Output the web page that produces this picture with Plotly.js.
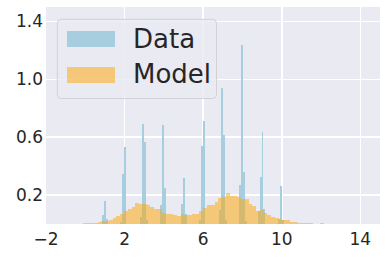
<!DOCTYPE html>
<html>
<head>
<meta charset="utf-8">
<script src="https://cdn.plot.ly/plotly-3.0.1.min.js"></script>
<style>html,body{margin:0;padding:0;background:#fff;}#chart{width:387px;height:259px;}</style>
</head>
<body>
<div id="chart"></div>
<script>
// Data histogram (bin centers and heights)
var dataX = [0.92,1.02,1.12, 1.83,1.93,2.03, 2.85,2.95,3.05,3.15, 3.86,3.96,4.06, 4.92,5.02,5.12,
             5.84,5.94,6.04, 6.85,6.95,7.05,7.15, 7.87,7.97,8.07,8.17, 8.82,8.92,9.02,9.12, 9.88,9.98,10.08];
var dataY = [0.062,0.159,0.034, 0.015,0.345,0.53, 0.048,0.69,0.566,0.03, 0.131,0.683,0.248, 0.138,0.317,0.069,
             0.03,0.538,0.71, 0.097,0.938,0.614,0.03, 0.269,1.234,0.359,0.02, 0.09,0.324,0.634,0.105, 0.034,0.262,0.03];
var dataBinWidth = 0.1;

// Model histogram (64 equal bins)
var modelBinStart = -0.14;
var modelBinWidth = 0.192;
var modelY = [0.007,0.007,0.007,0.007,0.014,0.02,0.021,0.028,0.041,0.055,
              0.069,0.09,0.103,0.117,0.145,0.138,0.138,0.131,0.117,0.103,
              0.103,0.076,0.069,0.066,0.062,0.057,0.069,0.064,0.064,0.069,
              0.069,0.09,0.11,0.131,0.131,0.152,0.179,0.186,0.214,0.193,
              0.193,0.186,0.172,0.172,0.138,0.124,0.09,0.097,0.076,0.062,
              0.048,0.041,0.034,0.028,0.028,0.014,0.014,0.007,0.007,0.007,
              0.005,0,0,0.007];
var modelX = modelY.map(function(_, i){ return modelBinStart + (i + 0.5) * modelBinWidth; });

var xTickVals = [-2, 2, 6, 10, 14];
var xTickText = ['\u22122', '2', '6', '10', '14'];
var yTickVals = [0.2, 0.6, 1.0, 1.4];
var yTickText = ['0.2', '0.6', '1.0', '1.4'];
var seriesNames = ['Data', 'Model'];

var traces = [
  {type:'bar', x:dataX, y:dataY, width:dataBinWidth, name:seriesNames[0],
   marker:{color:'rgb(166,206,222)', line:{width:0}}, showlegend:false, hoverinfo:'skip'},
  {type:'bar', x:modelX, y:modelY, width:modelBinWidth, name:seriesNames[1],
   marker:{color:'rgba(255,165,0,0.5)', line:{width:0}}, showlegend:false, hoverinfo:'skip'}
];

// custom legend geometry in pixels -> paper coords
var L = 46, R = 380, T = 7, B = 224;
function px(x){ return (x - L) / (R - L); }
function py(y){ return (B - y) / (B - T); }
var bx0 = 57.3, bx1 = 216.5, by0 = 19.3, by1 = 98.5, r = 4;
var path = 'M ' + px(bx0 + r) + ',' + py(by0) +
  ' L ' + px(bx1 - r) + ',' + py(by0) +
  ' Q ' + px(bx1) + ',' + py(by0) + ' ' + px(bx1) + ',' + py(by0 + r) +
  ' L ' + px(bx1) + ',' + py(by1 - r) +
  ' Q ' + px(bx1) + ',' + py(by1) + ' ' + px(bx1 - r) + ',' + py(by1) +
  ' L ' + px(bx0 + r) + ',' + py(by1) +
  ' Q ' + px(bx0) + ',' + py(by1) + ' ' + px(bx0) + ',' + py(by1 - r) +
  ' L ' + px(bx0) + ',' + py(by0 + r) +
  ' Q ' + px(bx0) + ',' + py(by0) + ' ' + px(bx0 + r) + ',' + py(by0) + ' Z';

var shapes = [
  {type:'path', xref:'paper', yref:'paper', path:path,
   fillcolor:'rgba(234,234,242,0.8)', line:{color:'rgba(204,204,204,0.8)', width:1}},
  {type:'rect', xref:'paper', yref:'paper', x0:px(67), x1:px(115), y0:py(47), y1:py(31),
   fillcolor:'rgb(166,206,222)', line:{width:0}},
  {type:'rect', xref:'paper', yref:'paper', x0:px(67), x1:px(115), y0:py(83), y1:py(67),
   fillcolor:'rgba(255,165,0,0.5)', line:{width:0}}
];
var annotations = [
  {xref:'paper', yref:'paper', x:px(131), y:py(39.3), xanchor:'left', yanchor:'middle',
   text:seriesNames[0], showarrow:false, font:{family:'DejaVu Sans', size:26, color:'#262626'}},
  {xref:'paper', yref:'paper', x:px(131), y:py(73.7), xanchor:'left', yanchor:'middle',
   text:seriesNames[1], showarrow:false, font:{family:'DejaVu Sans', size:26, color:'#262626'}}
];

var layout = {
  width:387, height:259,
  margin:{l:46, r:7, t:7, b:35, pad:0},
  paper_bgcolor:'#ffffff', plot_bgcolor:'#eaeaf2',
  barmode:'overlay', bargap:0,
  showlegend:false,
  font:{family:'DejaVu Sans', size:17, color:'#262626'},
  xaxis:{range:[-2,15], tickvals:xTickVals, ticktext:xTickText, showgrid:true,
         gridcolor:'#ffffff', gridwidth:1.5, zeroline:false, showline:false, ticks:'',
         ticklabelstandoff:3,
         tickfont:{family:'DejaVu Sans', size:17, color:'#262626'}},
  yaxis:{range:[0,1.5], tickvals:yTickVals, ticktext:yTickText, showgrid:true,
         gridcolor:'#ffffff', gridwidth:1.5, zeroline:false, showline:false, ticks:'',
         ticklabelstandoff:2,
         tickfont:{family:'DejaVu Sans', size:17, color:'#262626'}},
  shapes:shapes,
  annotations:annotations
};

Plotly.newPlot('chart', traces, layout, {staticPlot:true, displayModeBar:false});
</script>
</body>
</html>
